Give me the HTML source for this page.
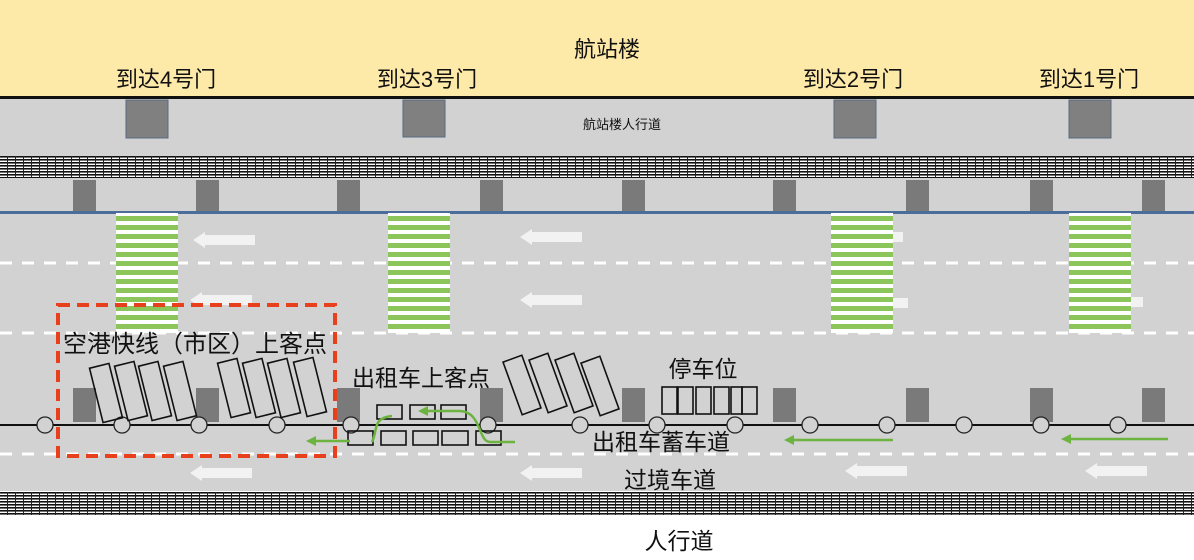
<!DOCTYPE html>
<html><head><meta charset="utf-8"><style>
html,body{margin:0;padding:0;background:#fff}
svg{display:block}
text{font-family:"Liberation Sans","Noto Sans CJK SC",sans-serif;fill:#111}
</style></head><body>
<svg width="1194" height="560" viewBox="0 0 1194 560" xmlns="http://www.w3.org/2000/svg">
<defs>
<pattern id="grate" width="8" height="3" patternUnits="userSpaceOnUse">
<rect width="8" height="3" fill="#fff"/><rect width="8" height="1.6" fill="#111"/><rect x="7" width="1" height="3" fill="#222"/>
</pattern>
<pattern id="zebra" width="10" height="9" patternUnits="userSpaceOnUse">
<rect width="10" height="9" fill="#fff"/><rect width="10" height="5" fill="#8cc65a"/>
</pattern>
<g id="arrow"><polygon points="0,0 12,-8 12,-5 62,-5 62,5 12,5 12,8" fill="#f2f2f2"/></g>
<g id="bus"><rect x="-10" y="-28" width="20" height="56" fill="none" stroke="#111" stroke-width="1.6"/></g>
</defs>
<rect x="0" y="0" width="1194" height="97" fill="#fde9a8"/>
<rect x="0" y="96" width="1194" height="3" fill="#111"/>
<rect x="0" y="99" width="1194" height="392" fill="#d2d2d2"/>
<rect x="0" y="156" width="1194" height="22" fill="url(#grate)"/>
<rect x="0" y="492" width="1194" height="23" fill="url(#grate)"/>
<rect x="0" y="515" width="1194" height="45" fill="#fff"/>
<rect x="0" y="211" width="1194" height="3" fill="#4a6d9c"/>
<line x1="0" y1="263" x2="1194" y2="263" stroke="#fff" stroke-width="3" stroke-dasharray="12,10"/>
<line x1="0" y1="333" x2="1194" y2="333" stroke="#fff" stroke-width="3" stroke-dasharray="12,10"/>
<line x1="0" y1="454" x2="1194" y2="454" stroke="#fff" stroke-width="3" stroke-dasharray="12,10"/>
<text x="607" y="57" font-size="22" text-anchor="middle">航站楼</text>
<g font-size="22" text-anchor="middle">
<text x="166" y="87">到达4号门</text><text x="427" y="87">到达3号门</text>
<text x="853" y="87">到达2号门</text><text x="1089" y="87">到达1号门</text>
</g>
<text x="622" y="129" font-size="13" text-anchor="middle">航站楼人行道</text>
<g fill="#808080" stroke="#5a6a80" stroke-width="1">
<rect x="126" y="100" width="42" height="38"/><rect x="403" y="100" width="42" height="37"/>
<rect x="834" y="100" width="42" height="38"/><rect x="1069" y="100" width="42" height="38"/>
</g>
<g fill="#7a7a7a">
<rect x="73" y="180" width="23" height="31"/><rect x="196" y="180" width="23" height="31"/><rect x="337" y="180" width="23" height="31"/>
<rect x="480" y="180" width="23" height="31"/><rect x="622" y="180" width="23" height="31"/><rect x="773" y="180" width="23" height="31"/>
<rect x="906" y="180" width="23" height="31"/><rect x="1030" y="180" width="23" height="31"/><rect x="1142" y="180" width="23" height="31"/>
<rect x="73" y="388" width="23" height="34"/><rect x="196" y="388" width="23" height="34"/><rect x="337" y="388" width="23" height="34"/>
<rect x="480" y="388" width="23" height="34"/><rect x="622" y="388" width="23" height="34"/><rect x="773" y="388" width="23" height="34"/>
<rect x="906" y="388" width="23" height="34"/><rect x="1030" y="388" width="23" height="34"/><rect x="1142" y="388" width="23" height="34"/>
</g>
<rect x="116" y="213" width="62" height="120" fill="url(#zebra)"/>
<rect x="388" y="213" width="62" height="120" fill="url(#zebra)"/>
<rect x="831" y="213" width="62" height="120" fill="url(#zebra)"/>
<rect x="1069" y="213" width="62" height="120" fill="url(#zebra)"/>
<use href="#arrow" x="193" y="240"/><use href="#arrow" x="520" y="237"/>
<rect x="893" y="232" width="10" height="10" fill="#f2f2f2"/>
<use href="#arrow" x="190" y="300"/><use href="#arrow" x="520" y="300"/>
<rect x="893" y="298" width="15" height="10" fill="#f2f2f2"/><rect x="1131" y="297" width="12" height="10" fill="#f2f2f2"/>
<use href="#arrow" x="190" y="473"/><use href="#arrow" x="520" y="473"/>
<use href="#arrow" x="845" y="471"/><use href="#arrow" x="1085" y="471"/>
<line x1="0" y1="425" x2="1194" y2="425" stroke="#111" stroke-width="2"/>
<g fill="#d2d2d2" stroke="#222" stroke-width="1.3">
<circle cx="45" cy="425" r="8"/><circle cx="122" cy="425" r="8"/><circle cx="199" cy="425" r="8"/><circle cx="277" cy="425" r="8"/>
<circle cx="351" cy="425" r="8"/><circle cx="488" cy="425" r="8"/><circle cx="580" cy="425" r="8"/><circle cx="657" cy="425" r="8"/>
<circle cx="735" cy="425" r="8"/><circle cx="810" cy="425" r="8"/><circle cx="887" cy="425" r="8"/><circle cx="964" cy="425" r="8"/>
<circle cx="1041" cy="425" r="8"/><circle cx="1118" cy="425" r="8"/>
</g>
<use href="#bus" transform="translate(106,393) rotate(-14)"/><use href="#bus" transform="translate(131,391) rotate(-14)"/>
<use href="#bus" transform="translate(155,391) rotate(-14)"/><use href="#bus" transform="translate(180,391) rotate(-14)"/>
<use href="#bus" transform="translate(234,388) rotate(-14)"/><use href="#bus" transform="translate(259,388) rotate(-14)"/>
<use href="#bus" transform="translate(284,388) rotate(-14)"/><use href="#bus" transform="translate(310,387) rotate(-14)"/>
<use href="#bus" transform="translate(522,385) rotate(-20)"/><use href="#bus" transform="translate(548,383) rotate(-20)"/>
<use href="#bus" transform="translate(574,383) rotate(-20)"/><use href="#bus" transform="translate(600,386) rotate(-20)"/>
<g fill="none" stroke="#111" stroke-width="1.6">
<rect x="377" y="405" width="25" height="14"/><rect x="410" y="405" width="25" height="14"/><rect x="441" y="405" width="25" height="14"/>
<rect x="348" y="431" width="25" height="14"/><rect x="381" y="431" width="25" height="14"/><rect x="413" y="431" width="25" height="14"/>
<rect x="442" y="431" width="26" height="14"/><rect x="476" y="431" width="25" height="14"/>
<rect x="662" y="387" width="15" height="27"/><rect x="678" y="387" width="15" height="27"/><rect x="696" y="387" width="15" height="27"/>
<rect x="714" y="387" width="15" height="27"/><rect x="731" y="387" width="11" height="27"/><rect x="742" y="387" width="15" height="27"/>
</g>
<g stroke="#6db33f" stroke-width="2.5" fill="none">
<path d="M515,442 L490,442 C478,442 482,412 460,411 L424,411"/>
<path d="M372,442 C378,430 372,418 392,416"/>
<line x1="312" y1="441" x2="350" y2="441"/>
<line x1="790" y1="440" x2="893" y2="440"/>
<line x1="1067" y1="439" x2="1168" y2="439"/>
</g>
<g fill="#6db33f">
<polygon points="306,441 316,436 316,446"/><polygon points="784,440 794,435 794,445"/>
<polygon points="1061,439 1071,434 1071,444"/><polygon points="418,411 428,406 428,416"/>
</g>
<rect x="58" y="305" width="277" height="151" fill="none" stroke="#e8401c" stroke-width="4" stroke-dasharray="12,7"/>
<text x="63" y="352" font-size="24">空港快线（市区）上客点</text>
<text x="352" y="386" font-size="23">出租车上客点</text>
<text x="703" y="377" font-size="23" text-anchor="middle">停车位</text>
<text x="661" y="450" font-size="23" text-anchor="middle">出租车蓄车道</text>
<text x="670" y="488" font-size="23" text-anchor="middle">过境车道</text>
<text x="679" y="549" font-size="23" text-anchor="middle">人行道</text>
</svg>
</body></html>
